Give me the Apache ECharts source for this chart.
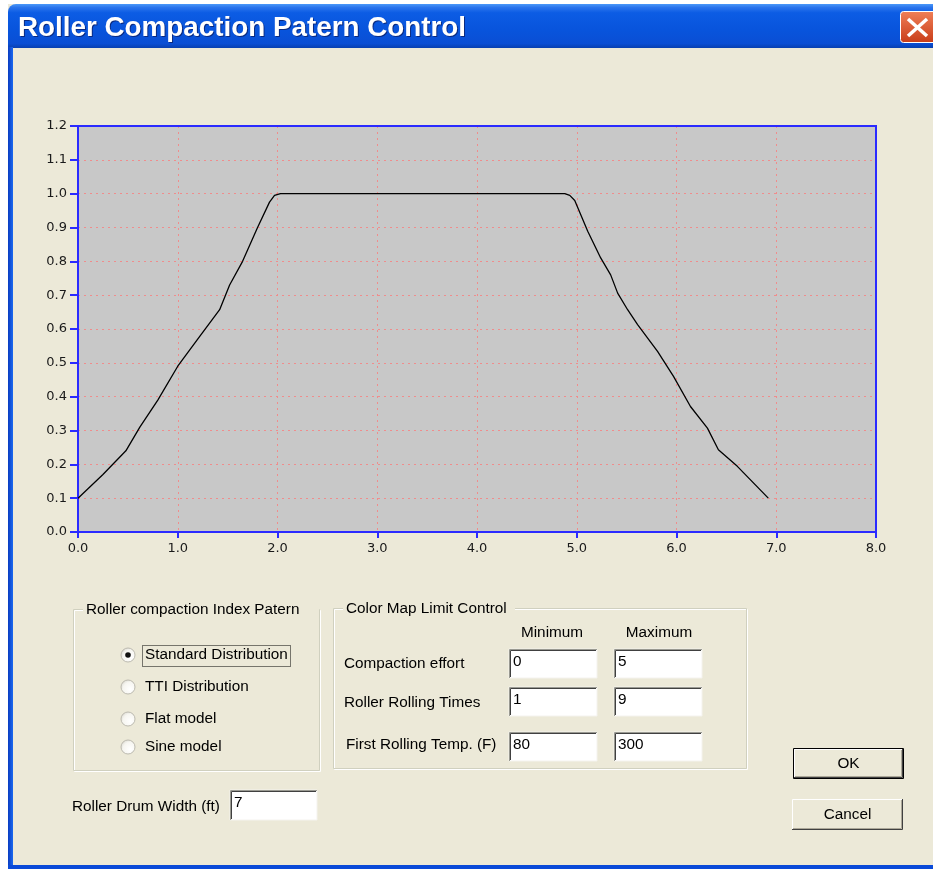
<!DOCTYPE html>
<html><head><meta charset="utf-8">
<script src="https://cdn.jsdelivr.net/npm/echarts@6/dist/echarts.min.js"></script>
<style>html,body{margin:0;padding:0;background:#fff;}#c{width:933px;height:869px;}</style>
</head><body><div id="c"></div>
<script>
// ---- data ----
const positions = [0.00,0.25,0.48,0.62,0.80,1.00,1.20,1.42,1.52,1.65,1.80,1.92,1.97,2.03,4.88,4.93,4.98,5.11,5.24,5.34,5.41,5.51,5.61,5.81,5.97,6.14,6.31,6.42,6.61,6.92];
const indexValues = [0.10,0.17,0.24,0.31,0.39,0.49,0.57,0.657,0.73,0.80,0.90,0.975,0.995,1.00,1.00,0.995,0.98,0.889,0.81,0.76,0.706,0.657,0.613,0.534,0.46,0.371,0.307,0.243,0.194,0.10];
const dialogTitle = 'Roller Compaction Patern Control';
const patternGroupTitle = 'Roller compaction Index Patern';
const patternOptions = ['Standard Distribution','TTI Distribution','Flat model','Sine model'];
const selectedPattern = 0;
const limitGroupTitle = 'Color Map Limit Control';
const limitRows = ['Compaction effort','Roller Rolling Times','First Rolling Temp. (F)'];
const limitMin = ['0','1','80'];
const limitMax = ['5','9','300'];
const drumWidthLabel = 'Roller Drum Width (ft)';
const drumWidth = '7';

const FONT = '15.3px "Liberation Sans", Arial, sans-serif';
const BLUE = '#2a2aff';
const g = [];
function txt(x,y,t,opt){opt=opt||{};const el={type:'text',silent:true,z:opt.z||10,style:{x:x,y:y,text:t,font:opt.font||FONT,fill:opt.fill||'#000',textAlign:opt.align||'left',verticalAlign:'middle',textVerticalAlign:'middle'}};if(opt.clip){el.clipPath={type:'rect',shape:opt.clip};}g.push(el);}
function rect(x,y,w,h,style,z,r){const s={x:x,y:y,width:w,height:h};if(r!=null)s.r=r;g.push({type:'rect',silent:true,z:z||5,shape:s,style:style});}
function pl(pts,stroke,w,z){g.push({type:'polyline',silent:true,z:z||6,shape:{points:pts},style:{stroke:stroke,lineWidth:w||1,fill:null}});}

// page / window frame
rect(0,0,8,869,{fill:'#ffffff'},1);
rect(0,0,933,4,{fill:'#ffffff'},1);
rect(8,4,940,44,{fill:new echarts.graphic.LinearGradient(0,0,0,1,[
 {offset:0,color:'#4a98f8'},{offset:0.08,color:'#2a74ec'},{offset:0.2,color:'#0c5ce4'},{offset:0.6,color:'#0854dc'},{offset:0.9,color:'#0a4ed4'},{offset:1,color:'#0840b0'}])},2,[8,8,0,0]);
rect(8,47,5,822,{fill:new echarts.graphic.LinearGradient(0,0,1,0,[{offset:0,color:'#0a3cc0'},{offset:1,color:'#1a68f0'}])},2);
rect(8,865,930,4,{fill:'#0a4ad8'},2);
// title text (shadow + text)
g.push({type:'text',silent:true,z:11,x:19,y:30,scaleX:1.03,style:{x:0,y:0,text:dialogTitle,font:'bold 27px "Liberation Sans", Arial, sans-serif',fill:'#0a2a80',textAlign:'left',verticalAlign:'middle'}});
g.push({type:'text',silent:true,z:12,x:18,y:29,scaleX:1.03,style:{x:0,y:0,text:dialogTitle,font:'bold 27px "Liberation Sans", Arial, sans-serif',fill:'#ffffff',textAlign:'left',verticalAlign:'middle'}});
// close button
rect(900.5,11.5,40,31,{fill:new echarts.graphic.LinearGradient(0,0,0,1,[{offset:0,color:'#f08058'},{offset:1,color:'#c83c18'}]),stroke:'#ffffff',lineWidth:1},11,3);
g.push({type:'line',silent:true,z:12,shape:{x1:908,y1:19,x2:927,y2:36},style:{stroke:'#fff',lineWidth:3.5}});
g.push({type:'line',silent:true,z:12,shape:{x1:927,y1:19,x2:908,y2:36},style:{stroke:'#fff',lineWidth:3.5}});

// group boxes
function group(x,y,w,h,title,tw){
  rect(x+0.5,y+0.5,w,h,{fill:null,stroke:'#d0d0bf',lineWidth:1},4);
  rect(x+1.5,y+1.5,w,h,{fill:null,stroke:'#ffffff',lineWidth:1},3);
  rect(x+10,y-8,tw,16,{fill:'#ece9d8'},7);
  txt(x+13,y+1,title,{z:10});
}
group(73,609,246,161,patternGroupTitle,236);
group(333,608,413,160,limitGroupTitle,172);

// radios
const radioY=[655,687,719,747];
patternOptions.forEach(function(o,i){
  g.push({type:'circle',silent:true,z:8,shape:{cx:128,cy:radioY[i],r:7},style:{fill:new echarts.graphic.RadialGradient(0.65,0.65,0.8,[{offset:0,color:'#ffffff'},{offset:0.6,color:'#f6f5f0'},{offset:1,color:'#d0cec4'}]),stroke:'#bcbab0',lineWidth:1}});
  if(i===selectedPattern){g.push({type:'circle',silent:true,z:9,shape:{cx:128,cy:radioY[i],r:2.8},style:{fill:'#111'}});}
  txt(145,radioY[i],o,i===selectedPattern?{clip:{x:140,y:640,width:150,height:30}}:{});
});
rect(142.5,645.5,148,21,{fill:null,stroke:'#000',lineWidth:1,lineDash:[1,1]},9);

// text boxes
function tbox(x,y,w,h,val){
  rect(x,y,w,h,{fill:'#ffffff',stroke:'#f4f3ee',lineWidth:1},6);
  pl([[x+0.5,y+h],[x+0.5,y+0.5],[x+w,y+0.5]],'#9a9a92',1,7);
  pl([[x+1.5,y+h-1],[x+1.5,y+1.5],[x+w-1,y+1.5]],'#404040',1,7);
  txt(x+4,y+h/2-2,val);
}
txt(72,807,drumWidthLabel);
tbox(230,790,87,30,drumWidth);
txt(552,633,'Minimum',{align:'center'});
txt(659,633,'Maximum',{align:'center'});
const rowY=[[649,664],[687,703],[732,745]];
limitRows.forEach(function(r,i){
  txt(i===2?346:344,rowY[i][1],r);
  tbox(509,rowY[i][0],88,29,limitMin[i]);
  tbox(614,rowY[i][0],88,29,limitMax[i]);
});

// buttons
function button(x,y,w,h,label,def){
  rect(x,y,w,h,{fill:'#ece9d8'},6);
  if(def){rect(x+0.5,y+0.5,w-1,h-1,{fill:null,stroke:'#000',lineWidth:1},8);x+=1;y+=1;w-=2;h-=2;}
  pl([[x+0.5,y+h-1],[x+0.5,y+0.5],[x+w-1,y+0.5]],'#ffffff',1,7);
  pl([[x,y+h-0.5],[x+w-0.5,y+h-0.5],[x+w-0.5,y]],'#404040',1,7);
  pl([[x+1,y+h-1.5],[x+w-1.5,y+h-1.5],[x+w-1.5,y+1]],'#aca899',1,7);
  txt(x+w/2,y+h/2,label,{align:'center'});
}
button(793,748,111,31,'OK',true);
button(792,799,111,31,'Cancel',false);

const chart = echarts.init(document.getElementById('c'),null,{renderer:'canvas'});
const axisFont = {color:'#1a1a1a',fontFamily:'"DejaVu Sans", Verdana, sans-serif',fontSize:13};
const frameAxis = {show:true,axisLine:{show:true,onZero:false,lineStyle:{color:BLUE,width:2}},axisTick:{show:false},axisLabel:{show:false},splitLine:{show:false}};
chart.setOption({
  animation:false,
  backgroundColor:'#ece9d8',
  grid:{left:78,right:57,top:126,bottom:337,show:true,backgroundColor:'#c8c8c8',borderColor:BLUE,borderWidth:2},
  xAxis:[{type:'value',min:0,max:8,interval:1,position:'bottom',
    axisLine:{show:true,onZero:false,lineStyle:{color:BLUE,width:2}},
    axisTick:{show:true,length:6,lineStyle:{color:BLUE,width:2}},
    axisLabel:Object.assign({margin:10,formatter:function(v){return v.toFixed(1);}},axisFont),
    splitLine:{show:true,lineStyle:{color:'#f08c8c',type:[2,4],width:1}}},
    Object.assign({type:'value',min:0,max:8,position:'top'},frameAxis)],
  yAxis:[{type:'value',min:0,max:1.2,interval:0.1,position:'left',
    axisLine:{show:true,onZero:false,lineStyle:{color:BLUE,width:2}},
    axisTick:{show:true,length:8,lineStyle:{color:BLUE,width:2}},
    axisLabel:Object.assign({margin:11,formatter:function(v){return v.toFixed(1);}},axisFont),
    splitLine:{show:true,lineStyle:{color:'#f08c8c',type:[2,4],width:1}}},
    Object.assign({type:'value',min:0,max:1.2,position:'right'},frameAxis)],
  series:[{type:'line',data:positions.map(function(x,i){return [x,indexValues[i]];}),showSymbol:false,smooth:false,
    lineStyle:{color:'#000',width:1.3},silent:true}],
  graphic:{elements:g}
});
</script></body></html>
